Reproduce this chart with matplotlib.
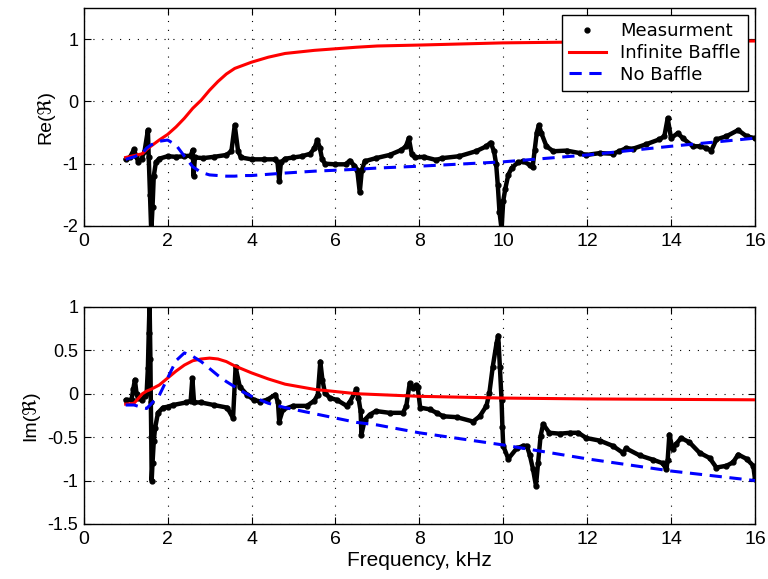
import matplotlib
matplotlib.use("Agg")
import matplotlib.pyplot as plt
from matplotlib import font_manager

# measured radiation impedance, real part (freq in kHz)
meas_re_freq = [1.00, 1.10, 1.20, 1.25, 1.30, 1.38, 1.45, 1.53, 1.55, 1.58, 1.61, 1.64, 1.67, 1.72,
                1.80, 2.00, 2.20, 2.40, 2.55, 2.60, 2.62, 2.65, 2.85, 3.10, 3.40, 3.52, 3.60, 3.68,
                3.75, 4.00, 4.30, 4.55, 4.62, 4.66, 4.70, 4.80, 5.00, 5.20, 5.40, 5.50, 5.57, 5.63,
                5.68, 5.75, 6.00, 6.25, 6.34, 6.45, 6.52, 6.58, 6.63, 6.70, 6.97, 7.29, 7.57, 7.68,
                7.75, 7.82, 7.90, 8.10, 8.40, 8.55, 8.95, 9.35, 9.60, 9.70, 9.78, 9.83, 9.87, 9.91,
                9.96, 10.00, 10.05, 10.12, 10.20, 10.35, 10.48, 10.63, 10.70, 10.75, 10.80, 10.85,
                10.91, 11.03, 11.19, 11.51, 11.83, 11.98, 12.30, 12.61, 12.77, 12.93, 13.09, 13.40,
                13.72, 13.84, 13.92, 14.00, 14.16, 14.28, 14.52, 14.68, 14.84, 14.96, 15.08, 15.32,
                15.60, 15.80, 16.00]
meas_re_val = [-0.93, -0.90, -0.77, -0.88, -0.97, -0.92, -0.80, -0.46, -0.90, -1.50, -2.10, -1.70, -1.20, -0.98,
               -0.92, -0.88, -0.89, -0.88, -0.87, -0.78, -1.20, -0.90, -0.91, -0.89, -0.86, -0.80, -0.38, -0.80,
               -0.90, -0.93, -0.93, -0.93, -0.98, -1.28, -0.98, -0.92, -0.90, -0.88, -0.84, -0.75, -0.62, -0.75,
               -0.92, -1.00, -1.01, -1.01, -0.95, -1.03, -1.10, -1.46, -1.10, -0.96, -0.91, -0.86, -0.78, -0.72,
               -0.59, -0.85, -0.90, -0.89, -0.94, -0.91, -0.88, -0.80, -0.72, -0.66, -0.80, -1.00, -1.34, -1.77,
               -2.05, -1.60, -1.40, -1.18, -1.07, -0.98, -0.96, -1.02, -1.06, -0.78, -0.50, -0.38,
               -0.51, -0.72, -0.80, -0.79, -0.83, -0.86, -0.83, -0.84, -0.80, -0.75, -0.76, -0.69,
               -0.61, -0.56, -0.27, -0.59, -0.51, -0.59, -0.72, -0.72, -0.75, -0.79, -0.61, -0.56,
               -0.46, -0.56, -0.59]

# measured radiation impedance, imaginary part
meas_im_freq = [1.00, 1.14, 1.18, 1.22, 1.26, 1.30, 1.38, 1.45, 1.50, 1.53, 1.55, 1.57, 1.59, 1.60,
                1.61, 1.62, 1.64, 1.67, 1.70, 1.77, 1.89, 2.00, 2.13, 2.45, 2.55, 2.59, 2.63, 2.79,
                3.10, 3.42, 3.56, 3.62, 3.72, 3.89, 4.05, 4.21, 4.37, 4.57, 4.63, 4.66, 4.75, 5.00,
                5.32, 5.50, 5.58, 5.64, 5.69, 5.75, 5.87, 6.03, 6.27, 6.35, 6.50, 6.55, 6.60, 6.62,
                6.70, 6.82, 6.97, 7.29, 7.61, 7.69, 7.77, 7.85, 7.93, 7.96, 8.02, 8.25, 8.41, 8.57,
                8.89, 9.28, 9.44, 9.60, 9.67, 9.75, 9.84, 9.88, 9.92, 9.96, 9.98, 10.00, 10.12, 10.32,
                10.48, 10.56, 10.63, 10.71, 10.78, 10.83, 10.89, 10.95, 11.10, 11.35, 11.59, 11.79,
                11.98, 12.30, 12.61, 12.85, 12.93, 13.25, 13.57, 13.80, 13.89, 13.92, 13.96, 14.04,
                14.12, 14.24, 14.44, 14.68, 14.92, 15.08, 15.32, 15.48, 15.60, 15.80, 15.96, 16.00]
meas_im_val = [-0.07, -0.07, 0.05, 0.16, 0.00, -0.05, -0.07, -0.03, 0.01, 0.30, 0.70, 1.05, 0.40, -0.10,
               -0.50, -1.00, -0.80, -0.55, -0.40, -0.22, -0.16, -0.15, -0.13, -0.10, -0.08, 0.18, -0.10, -0.10,
               -0.13, -0.16, -0.28, 0.31, 0.08, -0.01, -0.07, -0.09, -0.07, -0.01, -0.10, -0.32, -0.18, -0.14,
               -0.14, -0.08, -0.01, 0.37, 0.16, 0.01, -0.05, -0.07, -0.14, -0.09, 0.05, -0.05, -0.20, -0.47,
               -0.30, -0.24, -0.20, -0.22, -0.22, -0.14, 0.12, 0.07, 0.10, 0.08, -0.16, -0.18, -0.22, -0.26,
               -0.27, -0.32, -0.26, -0.14, 0.01, 0.31, 0.58, 0.67, 0.31, -0.07, -0.38, -0.60, -0.75, -0.63,
               -0.60, -0.60, -0.70, -0.87, -1.06, -0.80, -0.49, -0.35, -0.45, -0.46, -0.45, -0.45,
               -0.51, -0.54, -0.60, -0.68, -0.63, -0.71, -0.76, -0.80, -0.87, -0.76, -0.47, -0.64,
               -0.58, -0.51, -0.56, -0.68, -0.74, -0.85, -0.83, -0.79, -0.70, -0.75, -0.83, -0.98]

# models
model_freq = [1.0, 1.2, 1.4, 1.5, 1.6, 1.8, 2.0, 2.2, 2.4, 2.6, 2.8, 3.0, 3.2, 3.4, 3.6, 3.8,
              4.0, 4.4, 4.8, 5.5, 6.5, 7.0, 8.0, 10.0, 12.0, 14.0, 16.0]
baffle_re = [-0.90, -0.87, -0.84, -0.77, -0.72, -0.62, -0.53, -0.41, -0.27, -0.11, 0.02, 0.18, 0.32, 0.44,
             0.53, 0.58, 0.63, 0.71, 0.77, 0.82, 0.87, 0.89, 0.905, 0.94, 0.955, 0.965, 0.97]
nobaffle_re = [-0.93, -0.89, -0.83, -0.75, -0.70, -0.64, -0.62, -0.70, -0.88, -1.05, -1.14, -1.18, -1.19, -1.20,
               -1.20, -1.19, -1.19, -1.17, -1.15, -1.12, -1.09, -1.07, -1.04, -0.97, -0.86, -0.72, -0.59]
baffle_im = [-0.12, -0.11, 0.00, 0.03, 0.05, 0.10, 0.18, 0.26, 0.33, 0.38, 0.40, 0.41, 0.40, 0.37,
             0.32, 0.28, 0.24, 0.17, 0.11, 0.05, 0.00, -0.01, -0.03, -0.05, -0.06, -0.065, -0.07]
nobaffle_im = [-0.13, -0.13, -0.16, -0.17, -0.12, -0.02, 0.18, 0.38, 0.47, 0.43, 0.37, 0.29, 0.21, 0.14,
               0.08, 0.02, -0.03, -0.11, -0.16, -0.23, -0.33, -0.36, -0.45, -0.59, -0.75, -0.89, -1.00]

installed = {f.name for f in font_manager.fontManager.ttflist}
narrow = 'Liberation Sans Narrow' if 'Liberation Sans Narrow' in installed else 'Liberation Sans'
plain = ['Liberation Sans', 'DejaVu Sans']

fig = plt.figure(figsize=(7.68, 5.79), dpi=100)
ax1 = fig.add_axes([0.109, 0.6097, 0.874, 0.3765])
ax2 = fig.add_axes([0.109, 0.095, 0.874, 0.375])


def draw_panel(ax, mfreq, mval, red, blue, ylim, yticks, ylabel, show_legend=False):
    ax.plot(mfreq, mval, color='k', lw=3.2, solid_capstyle='round', solid_joinstyle='round', zorder=3)
    ax.plot(mfreq, mval, 'o', color='k', ms=3.5, zorder=3, label='Measurment')
    ax.plot(model_freq, red, color='#ff0000', lw=2.2, zorder=4, label='Infinite Baffle')
    ax.plot(model_freq, blue, color='#0000ff', lw=2.2, dashes=(4, 2.5), zorder=4, label='No Baffle')
    ax.set_xlim(0, 16)
    ax.set_ylim(*ylim)
    ax.set_xticks(range(0, 17, 2))
    ax.set_yticks(yticks)
    ax.set_yticklabels([f'{t:g}' for t in yticks], family=plain, fontsize=13)
    ax.set_xticklabels([str(t) for t in range(0, 17, 2)], family=narrow, fontsize=14)
    ax.tick_params(direction='in', top=True, right=True, length=5, width=0.8)
    ax.tick_params(axis='x', pad=5)
    ax.tick_params(axis='y', pad=4)
    ax.grid(True, color='k', lw=0.8, linestyle=(0, (1, 7)))
    for s in ax.spines.values():
        s.set_linewidth(1)
    ax.set_ylabel(ylabel, family=plain, fontsize=14, labelpad=6)
    if show_legend:
        leg = ax.legend(loc='upper right', numpoints=1, fancybox=False, framealpha=1,
                        edgecolor='k', borderaxespad=0.4, labelspacing=0.2,
                        handlelength=2.0, prop={'family': 'DejaVu Sans', 'size': 13})
        leg.get_frame().set_linewidth(1)


draw_panel(ax1, meas_re_freq, meas_re_val, baffle_re, nobaffle_re,
           (-2, 1.5), [-2, -1, 0, 1], 'Re(\u211c)', show_legend=True)
draw_panel(ax2, meas_im_freq, meas_im_val, baffle_im, nobaffle_im,
           (-1.5, 1), [-1.5, -1, -0.5, 0, 0.5, 1], 'Im(\u211c)')
ax2.set_xlabel('Frequency, kHz', family=narrow, fontsize=15, labelpad=2)

fig.savefig('out.png', dpi=100)
